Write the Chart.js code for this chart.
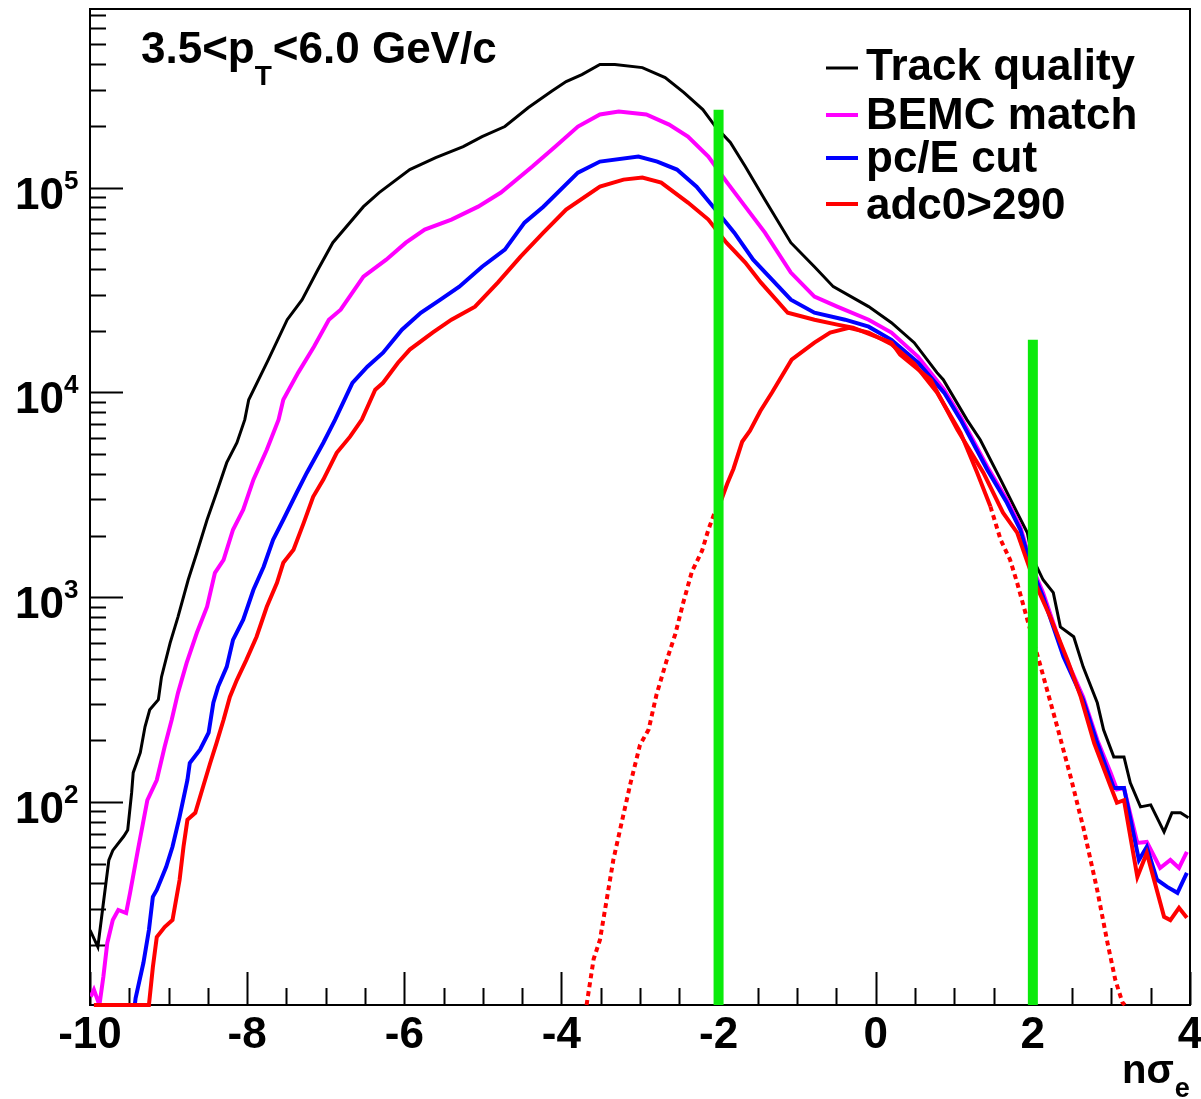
<!DOCTYPE html>
<html>
<head>
<meta charset="utf-8">
<script src="https://cdn.jsdelivr.net/npm/chart.js@4.4.1/dist/chart.umd.min.js"></script>
<style>
  html, body { margin: 0; padding: 0; background: #ffffff; }
  #c { display: block; }
</style>
</head>
<body>
<canvas id="c" width="1201" height="1099"></canvas>
<script>
// ---------- axis ranges / labels ----------
const X_MIN = -10, X_MAX = 4;
const Y_MIN = 10.2, Y_MAX = 7.45e5;
const xTickLabels = [-10, -8, -6, -4, -2, 0, 2, 4];
const yTickExponents = [2, 3, 4, 5];
const seriesLabels = ['Track quality', 'BEMC match', 'pc/E cut', 'adc0>290'];
const seriesColors = ['#000000', '#ff00ff', '#0000ff', '#ff0000'];
const cutLines = [-2, 2];
const cutTops = [2.4e5, 1.81e4];

// ---------- series values [nσe, counts] ----------
const trackQuality = [[-10.00,23.7],[-9.90,19.6],[-9.83,32],[-9.76,52],[-9.71,58],[-9.57,68],[-9.52,73],[-9.47,111],[-9.45,139],[-9.36,174],[-9.30,233],[-9.24,282],[-9.13,316],[-9.09,408],[-8.98,598],[-8.88,802],[-8.75,1216],[-8.64,1648],[-8.51,2388],[-8.39,3236],[-8.26,4539],[-8.13,5679],[-8.03,7362],[-7.98,9205],[-7.73,14450],[-7.49,22650],[-7.30,28370],[-7.10,39720],[-6.91,53830],[-6.52,80720],[-6.32,94600],[-5.93,122500],[-5.60,140200],[-5.25,158500],[-5.01,177500],[-4.72,198700],[-4.42,246000],[-4.13,294500],[-3.94,329500],[-3.74,356500],[-3.51,399000],[-3.32,399000],[-2.97,385500],[-2.68,344400],[-2.44,291000],[-2.20,240400],[-2.04,198700],[-1.85,166000],[-1.66,126800],[-1.41,87300],[-1.08,53830],[-0.78,41100],[-0.54,32830],[-0.09,26230],[0.20,21900],[0.49,17490],[0.78,12490],[0.86,11530],[1.16,7362],[1.33,5875],[1.59,3750],[1.80,2585],[1.93,2065],[1.99,1575],[2.13,1216],[2.26,1052],[2.35,716],[2.52,641],[2.64,457],[2.82,305],[2.90,225],[3.03,166],[3.16,166],[3.24,124],[3.37,94.6],[3.50,96.8],[3.67,71.5],[3.77,88.5],[3.88,88.5],[3.98,83.7]];

const bemcMatch = [[-9.99,11.2],[-9.95,12.1],[-9.88,10.2],[-9.83,14.0],[-9.78,20.5],[-9.71,26.5],[-9.64,29.7],[-9.54,28.7],[-9.49,36.0],[-9.39,58.3],[-9.27,102],[-9.15,128],[-9.05,186],[-8.96,252],[-8.88,341],[-8.77,478],[-8.64,670],[-8.51,898],[-8.41,1315],[-8.30,1523],[-8.18,2135],[-8.05,2673],[-7.92,3750],[-7.75,5250],[-7.60,7362],[-7.54,9205],[-7.35,12490],[-7.15,16710],[-6.96,22650],[-6.81,25350],[-6.52,36730],[-6.23,44460],[-5.98,53830],[-5.74,62370],[-5.40,69820],[-5.06,80720],[-4.77,94600],[-4.37,126800],[-4.08,158500],[-3.79,198700],[-3.51,227500],[-3.27,235200],[-2.92,227500],[-2.63,203200],[-2.39,177500],[-2.13,141700],[-1.90,106900],[-1.66,80720],[-1.41,60260],[-1.08,38450],[-0.78,29370],[-0.49,26230],[-0.09,22650],[0.20,19590],[0.54,14930],[0.87,10300],[1.08,7600],[1.42,4335],[1.67,2992],[1.84,2208],[1.99,1406],[2.13,1052],[2.39,535],[2.64,326],[2.82,201],[2.99,139],[3.07,115],[3.16,117],[3.33,63.1],[3.45,63.8],[3.62,47.6],[3.75,52.1],[3.86,47.6],[3.96,57.0]];

const pcECut = [[-9.95,10.2],[-9.43,10.2],[-9.42,11.0],[-9.32,16.4],[-9.25,23.7],[-9.20,34.4],[-9.15,37.2],[-9.03,48.2],[-8.95,60.4],[-8.86,84.6],[-8.76,128],[-8.73,155],[-8.60,180],[-8.49,218],[-8.43,305],[-8.37,365],[-8.26,457],[-8.18,619],[-8.05,776],[-7.92,1087],[-7.79,1409],[-7.67,1907],[-7.54,2388],[-7.37,3236],[-7.24,4055],[-7.03,5679],[-6.88,7362],[-6.66,11140],[-6.47,13360],[-6.27,15630],[-6.03,20240],[-5.79,24490],[-5.54,28370],[-5.30,32830],[-5.01,41100],[-4.72,49770],[-4.47,67450],[-4.23,80720],[-3.79,118300],[-3.51,134000],[-3.02,141700],[-2.78,134000],[-2.53,122500],[-2.28,101100],[-2.04,78160],[-1.80,60260],[-1.56,44460],[-1.32,35560],[-1.08,28370],[-0.78,24490],[-0.39,22650],[-0.09,20940],[0.20,18070],[0.54,13960],[0.87,9980],[1.08,7362],[1.42,4190],[1.67,2891],[1.84,2135],[1.99,1361],[2.13,1005],[2.39,512],[2.64,315],[2.82,194],[3.03,117],[3.16,117],[3.35,52.1],[3.45,60.4],[3.58,41.7],[3.71,38.5],[3.84,36.0],[3.96,45.1]];

const adc0Cut = [[-9.95,10.2],[-9.25,10.2],[-9.20,15.6],[-9.15,21.9],[-9.05,24.5],[-8.95,26.5],[-8.86,41.6],[-8.81,60.4],[-8.76,81.8],[-8.66,88.5],[-8.56,119],[-8.47,155],[-8.39,194],[-8.30,252],[-8.22,326],[-8.13,395],[-8.01,494],[-7.88,641],[-7.75,898],[-7.62,1176],[-7.54,1472],[-7.41,1706],[-7.28,2307],[-7.16,3090],[-7.03,3750],[-6.86,5070],[-6.69,6080],[-6.54,7362],[-6.37,10300],[-6.27,11140],[-6.08,13960],[-5.93,16180],[-5.64,19590],[-5.40,22650],[-5.10,26230],[-4.81,34360],[-4.52,46030],[-4.23,60260],[-3.94,78160],[-3.51,101100],[-3.21,109400],[-2.97,111900],[-2.73,105700],[-2.39,84530],[-2.13,69820],[-1.90,53830],[-1.66,43050],[-1.46,34360],[-1.12,24490],[-0.78,22650],[-0.49,21430],[-0.29,20700],[0.20,17490],[0.31,15280],[0.70,11530],[1.04,6577],[1.37,4055],[1.62,2585],[1.80,2065],[2.01,1216],[2.22,802],[2.44,494],[2.61,326],[2.78,194],[2.99,119],[3.07,99.1],[3.16,102],[3.33,43.1],[3.45,56.4],[3.67,27.5],[3.75,26.5],[3.86,30.4],[3.96,27.2]];

const electronPeak = [[-3.68,10.2],[-3.59,17.1],[-3.51,21.2],[-3.42,34],[-3.34,52],[-3.21,87],[-3.12,124],[-3.00,190],[-2.89,226],[-2.79,334],[-2.66,492],[-2.55,662],[-2.45,939],[-2.34,1331],[-2.21,1686],[-2.13,2135],[-2.06,2528],[-1.97,2950],[-1.89,3580],[-1.81,4240],[-1.70,5740],[-1.60,6500],[-1.47,8090],[-1.32,9980],[-1.07,14450],[-0.78,17500],[-0.58,19600],[-0.34,20700],[-0.09,19600],[0.20,17200],[0.49,13800],[0.78,10000],[1.08,6350],[1.29,4060],[1.46,2770],[1.59,1907],[1.71,1523],[1.80,1176],[1.93,776],[2.10,457],[2.31,233],[2.48,133],[2.65,73],[2.82,37],[2.95,20.5],[3.05,13.5],[3.14,10.5],[3.17,10.2]];

// ---------- helpers ----------
const toPts = arr => arr.map(p => ({ x: p[0], y: p[1] }));
const DASH_BELOW = 3000;
const FONT = '"Liberation Sans", Arial, Helvetica, sans-serif';

const decor = {
  id: 'decor',
  beforeDatasetsDraw(chart) {
    const { ctx, chartArea: a, scales: { x, y } } = chart;
    ctx.save();
    ctx.strokeStyle = '#000';
    ctx.lineWidth = 2;
    ctx.strokeRect(a.left, a.top, a.right - a.left, a.bottom - a.top);
    ctx.beginPath();
    for (let i = 0; i <= 28; i++) {
      const v = X_MIN + i * 0.5;
      const px = Math.round(x.getPixelForValue(v)) + 0.5;
      const len = (i % 4 === 0) ? 33 : 17;
      ctx.moveTo(px, a.bottom);
      ctx.lineTo(px, a.bottom - len);
    }
    for (let e = 1; e <= 6; e++) {
      for (let m = 1; m <= 9; m++) {
        const v = m * Math.pow(10, e);
        if (v < Y_MIN || v > Y_MAX) continue;
        const py = Math.round(y.getPixelForValue(v)) + 0.5;
        const len = m === 1 ? 33 : 16;
        ctx.moveTo(a.left, py);
        ctx.lineTo(a.left + len, py);
      }
    }
    ctx.stroke();
    ctx.restore();
  },
  afterDraw(chart) {
    const { ctx, chartArea: a, scales: { x, y } } = chart;
    ctx.save();
    ctx.fillStyle = '#000';
    // x tick labels
    ctx.font = 'bold 44px ' + FONT;
    ctx.textAlign = 'center';
    ctx.textBaseline = 'alphabetic';
    xTickLabels.forEach(v => {
      ctx.fillText(String(v), x.getPixelForValue(v), a.bottom + 43);
    });
    // y tick labels 10^n
    yTickExponents.forEach(n => {
      const py = y.getPixelForValue(Math.pow(10, n));
      ctx.font = 'bold 44px ' + FONT;
      ctx.textAlign = 'right';
      ctx.fillText('10', 64, py + 21);
      ctx.font = 'bold 26px ' + FONT;
      ctx.textAlign = 'left';
      ctx.fillText(String(n), 64, py + 1);
    });
    // x axis title nσe
    ctx.textAlign = 'left';
    ctx.font = 'bold 40px ' + FONT;
    ctx.fillText('nσ', 1122, 1083);
    const w1 = ctx.measureText('nσ').width;
    ctx.font = 'bold 27px ' + FONT;
    ctx.fillText('e', 1122 + w1 + 1, 1097);
    // pT range text
    ctx.font = 'bold 44px ' + FONT;
    let tx = 141;
    ctx.fillText('3.5<p', tx, 63);
    tx += ctx.measureText('3.5<p').width;
    ctx.font = 'bold 28px ' + FONT;
    ctx.fillText('T', tx, 85);
    tx += ctx.measureText('T').width + 1;
    ctx.font = 'bold 44px ' + FONT;
    ctx.fillText('<6.0 GeV/c', tx, 63);
    // legend
    const lineY = [68, 115, 158, 204];
    const textY = [80, 129, 172, 219];
    seriesLabels.forEach((lab, i) => {
      ctx.strokeStyle = seriesColors[i];
      ctx.lineWidth = i === 0 ? 3 : 4;
      ctx.beginPath();
      ctx.moveTo(826, lineY[i]);
      ctx.lineTo(858, lineY[i]);
      ctx.stroke();
      ctx.fillStyle = '#000';
      ctx.font = 'bold 44px ' + FONT;
      ctx.fillText(lab, 866, textY[i]);
    });
    ctx.restore();
  }
};

const clipB = { left: 0, top: 0, right: 0, bottom: 2 };

new Chart(document.getElementById('c'), {
  type: 'line',
  data: {
    datasets: [
      { label: 'cut -2', data: [{ x: cutLines[0], y: Y_MIN }, { x: cutLines[0], y: cutTops[0] }], borderColor: '#0bea0b', borderWidth: 10, borderCapStyle: 'butt', order: 0 },
      { label: 'cut 2', data: [{ x: cutLines[1], y: Y_MIN }, { x: cutLines[1], y: cutTops[1] }], borderColor: '#0bea0b', borderWidth: 10, borderCapStyle: 'butt', order: 0 },
      { label: seriesLabels[3], data: toPts(adc0Cut), borderColor: seriesColors[3], borderWidth: 4, order: 1, clip: clipB },
      { label: 'electron', data: toPts(electronPeak), borderColor: '#ff0000', borderWidth: 4, order: 2, clip: clipB,
        segment: { borderDash: c => (c.p0.parsed.y < DASH_BELOW && c.p1.parsed.y < DASH_BELOW) ? [5, 4] : undefined } },
      { label: seriesLabels[2], data: toPts(pcECut), borderColor: seriesColors[2], borderWidth: 4, order: 3, clip: clipB },
      { label: seriesLabels[1], data: toPts(bemcMatch), borderColor: seriesColors[1], borderWidth: 4, order: 4, clip: clipB },
      { label: seriesLabels[0], data: toPts(trackQuality), borderColor: seriesColors[0], borderWidth: 3, order: 5, clip: clipB }
    ]
  },
  options: {
    responsive: false,
    animation: false,
    layout: { padding: { left: 90, right: 11, top: 9, bottom: 94 } },
    plugins: { legend: { display: false }, tooltip: { enabled: false } },
    elements: { point: { radius: 0 }, line: { tension: 0, fill: false } },
    scales: {
      x: { type: 'linear', min: X_MIN, max: X_MAX, display: false },
      y: { type: 'logarithmic', min: Y_MIN, max: Y_MAX, display: false }
    }
  },
  plugins: [decor]
});
</script>
</body>
</html>
